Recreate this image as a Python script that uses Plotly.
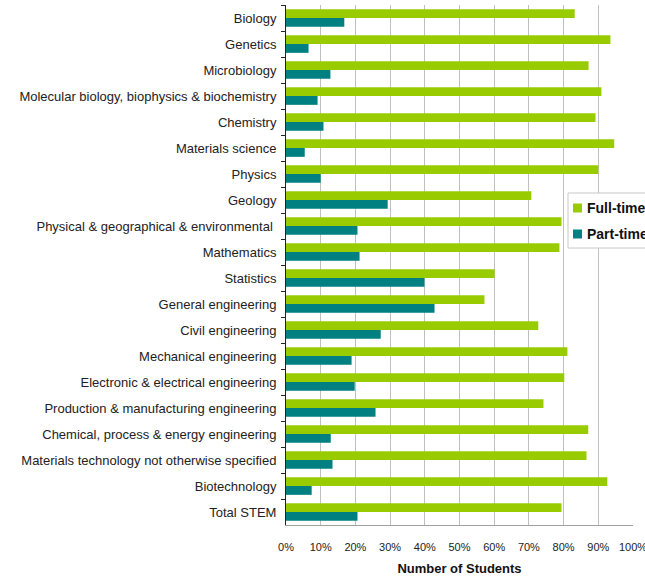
import plotly.graph_objects as go

categories = ["Biology", "Genetics", "Microbiology",
              "Molecular biology, biophysics & biochemistry", "Chemistry",
              "Materials science", "Physics", "Geology",
              "Physical & geographical & environmental ", "Mathematics",
              "Statistics", "General engineering", "Civil engineering",
              "Mechanical engineering", "Electronic & electrical engineering",
              "Production & manufacturing engineering",
              "Chemical, process & energy engineering",
              "Materials technology not otherwise specified",
              "Biotechnology", "Total STEM"]
full_time = [83.2, 93.5, 87.2, 90.9, 89.2, 94.6, 90.0, 70.7, 79.4, 78.8,
             60.1, 57.2, 72.7, 81.1, 80.2, 74.2, 87.1, 86.6, 92.6, 79.4]
part_time = [16.8, 6.5, 12.8, 9.1, 10.8, 5.4, 10.0, 29.3, 20.6, 21.2,
             39.9, 42.8, 27.3, 18.9, 19.8, 25.8, 12.9, 13.4, 7.4, 20.6]
x_ticks = [0, 10, 20, 30, 40, 50, 60, 70, 80, 90, 100]
x_tick_labels = [f"{v}%" for v in x_ticks]
series_names = ["Full-time", "Part-time"]
series_colors = ["#99cc00", "#008080"]

fig = go.Figure()
for name, vals, col in zip(series_names, [full_time, part_time], series_colors):
    fig.add_trace(go.Bar(y=categories, x=vals, name=name, orientation="h",
                         marker=dict(color=col, line=dict(width=0)),
                         showlegend=False))

# Manual legend (box partly clipped by the right edge as in the reference)
W, H = 645, 576
L, R, T, B = 286, 12, 5, 51
pw, ph = W - L - R, H - T - B


def px(x):
    return (x - L) / pw


def py(y):
    return (H - B - y) / ph


fig.add_shape(type="rect", xref="paper", yref="paper",
              x0=px(568), x1=px(700), y0=py(248), y1=py(193),
              fillcolor="white", line=dict(color="#c8c8c8", width=1), layer="above")
for i, (name, col) in enumerate(zip(series_names, series_colors)):
    yc = 208 + 26 * i
    fig.add_shape(type="rect", xref="paper", yref="paper",
                  x0=px(573), x1=px(582), y0=py(yc + 4.5), y1=py(yc - 4.5),
                  fillcolor=col, line=dict(width=0), layer="above")
    fig.add_annotation(xref="paper", yref="paper", x=px(585), y=py(yc),
                       xanchor="left", yanchor="middle", showarrow=False,
                       text=f"<b>{name}</b>",
                       font=dict(size=14, color="#111"))

fig.update_layout(
    width=W, height=H,
    margin=dict(l=L, r=R, t=T, b=B, autoexpand=False),
    paper_bgcolor="white", plot_bgcolor="white",
    barmode="group", bargap=0.32, bargroupgap=0,
    font=dict(family="Liberation Sans, Arial, sans-serif", color="#222"),
    showlegend=False,
    xaxis=dict(range=[0, 100], tickvals=x_ticks, ticktext=x_tick_labels,
               showgrid=True, gridcolor="#c0c0c0", gridwidth=1,
               zeroline=False, showline=True, linecolor="#a0a0a0",
               tickfont=dict(size=11, color="#222"), ticklabeloverflow="allow",
               ticks="", ticklabelstandoff=12, automargin=False, fixedrange=True,
               title=dict(text="<b>Number of Students</b>",
                          font=dict(size=13, color="#111"), standoff=14)),
    yaxis=dict(autorange="reversed", showline=True, linecolor="#222",
               linewidth=1, ticks="outside", tickson="boundaries",
               ticklen=4, tickcolor="#222", showgrid=False, automargin=False,
               ticklabelstandoff=6,
               tickfont=dict(size=13, color="#222"), fixedrange=True),
)

fig.write_html("out.html", config={"displayModeBar": False},
               post_script="document.body.style.margin='0';"
                           "document.body.style.padding='0';")
